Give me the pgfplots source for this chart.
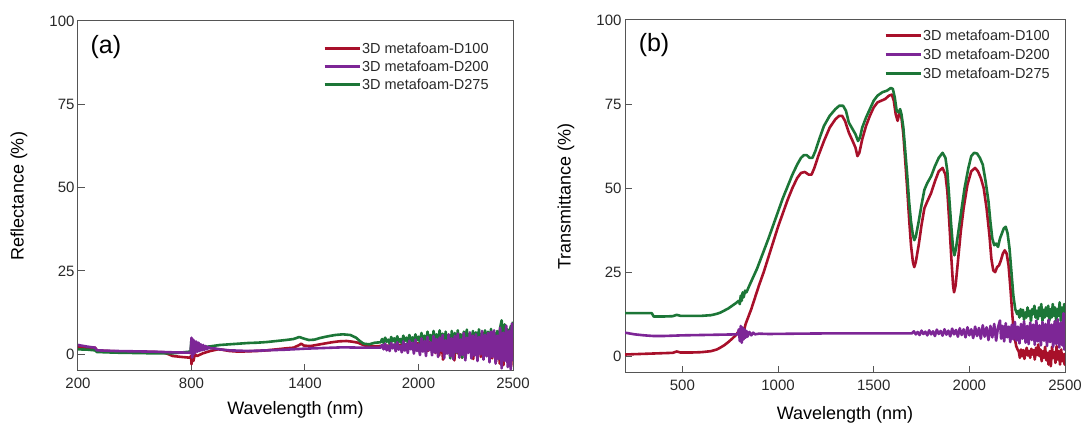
\documentclass[border=0pt]{standalone}
\usepackage{fontspec}
\setmainfont{Liberation Sans}
\usepackage{pgfplots}
\pgfplotsset{compat=1.18}
\definecolor{cred}{RGB}{168,16,42}
\definecolor{cpur}{RGB}{125,38,150}
\definecolor{cgrn}{RGB}{28,118,55}
\definecolor{axc}{RGB}{85,85,85}
\definecolor{txc}{RGB}{40,40,40}
\pgfplotsset{
  base/.style={
    scale only axis,
    anchor=south west,
    xmin=200, xmax=2500, ymin=-5, ymax=100,
    ytick={0,25,50,75,100},
    /pgf/number format/assume math mode=true,
    /pgf/number format/1000 sep={},
    axis line style={axc, line width=1pt},
    tick style={axc, line width=1pt},
    major tick length=7pt,
    tick align=inside,
    tick pos=left,
    tick label style={font=\fontsize{15}{17}\selectfont, text=txc},
    xticklabel style={yshift=-3pt},
    label style={font=\fontsize{18}{21}\selectfont, text=black},
    every axis plot/.append style={line width=2.6pt, line join=round, no markers},
    legend style={draw=none, fill=none, inner sep=0pt, anchor=north west,
      font=\fontsize{14.5}{16}\selectfont, text=txc,
      nodes={inner sep=1pt, text height=10.5pt, text depth=0pt}},
    legend image code/.code={\draw[#1, line width=3pt] (0pt,0pt) -- (35pt,0pt);},
  }
}
\begin{document}
\begin{tikzpicture}
\useasboundingbox (0pt,0pt) rectangle (1085pt,428pt);
% ---------------- (a) Reflectance ----------------
\begin{axis}[base,
  at={(78pt,57pt)}, width=435pt, height=350pt,
  xtick={200,800,1400,2000,2500},
  xlabel={Wavelength (nm)}, ylabel={Reflectance (\%)},
  x label style={at={(axis description cs:0.5,-0.1114)}, anchor=center},
  y label style={at={(axis description cs:-0.1356,0.5)}, anchor=center},
  legend style={at={(axis description cs:0.563,0.9407)}, row sep=5.5pt},
]
\addlegendimage{cred}\addlegendentry{3D metafoam-D100}
\addlegendimage{cpur}\addlegendentry{3D metafoam-D200}
\addlegendimage{cgrn}\addlegendentry{3D metafoam-D275}
% D100
\addplot[cred, forget plot] coordinates {
(200,2.2)(250,2.0)(290,2.0)(300,1.2)(350,1.0)(400,0.9)(500,0.8)(600,0.7)(650,0.6)(680,0)(700,-0.5)(750,-0.8)(790,-1.0)(798,-0.5)(800,-3)(802,-0.2)(810,-2)(818,0)(830,-0.5)(860,0.3)(900,1)(940,1.5)(960,1.4)(1000,1)(1050,0.8)(1100,0.9)(1150,1.0)(1200,1.2)(1250,1.5)(1300,1.8)(1340,2.0)(1370,2.8)(1380,3.2)(1395,2.6)(1430,2.5)(1460,2.8)(1500,3.2)(1540,3.6)(1580,3.9)(1620,4.0)(1650,3.8)(1680,3.5)(1700,3)(1720,2.6)(1760,2.4)(1800,2.5)(1850,2.6)(1900,2.8)(1950,3)
(2000,3.3)(2010,1.8)(2020,4.2)(2030,2.4)(2040,4.6)(2050,1.0)(2060,3.8)(2070,1.6)(2080,5.0)(2090,0.4)(2100,4.4)(2110,-0.3)(2120,5.4)(2130,-1.6)(2140,4.0)(2150,0.8)(2160,5.8)(2170,-0.6)(2180,4.6)(2190,-1.8)(2200,5.2)(2210,0.2)(2220,6.0)(2230,-1.0)(2240,4.8)(2250,-0.4)(2260,6.2)(2270,0.8)(2280,5.4)(2290,-1.4)(2300,6.4)(2310,0.2)(2320,5.6)(2330,-0.8)(2340,6.6)(2350,0.6)(2360,5.2)(2370,-0.4)(2380,6.4)(2390,-1.2)(2400,5.8)(2410,-2.2)(2420,6.8)(2430,-2.8)(2440,5.6)(2450,-3.2)(2460,6.4)(2470,-1.8)(2480,7.0)(2490,-3.6)(2500,5)
};
% D275
\addplot[cgrn, forget plot] coordinates {
(200,1.5)(250,1.4)(290,1.2)(300,0.7)(400,0.5)(500,0.4)(600,0.3)(700,0.3)(790,0.8)(795,1.0)(800,4.5)(805,2)(810,3)(830,2.2)(870,2.2)(900,2.4)(950,2.8)(1000,3.0)(1050,3.2)(1100,3.4)(1150,3.5)(1200,3.7)(1250,4)(1300,4.3)(1340,4.6)(1370,5.2)(1390,4.8)(1420,4.3)(1450,4.4)(1480,4.9)(1520,5.4)(1560,5.8)(1600,6.0)(1640,5.8)(1670,5.0)(1690,4.0)(1710,3.2)(1740,3.0)(1770,3.5)
(1800,3.6)(1808,4.6)(1816,3.4)(1824,5.0)(1832,3.8)(1840,4.4)(1848,3.2)(1856,5.2)(1864,3.9)(1872,4.8)(1880,3.5)(1888,5.4)(1896,3.7)(1904,4.6)(1912,3.3)(1920,5.6)(1928,4.0)(1936,5.0)(1944,3.6)(1952,5.8)(1960,3.9)(1968,5.1)(1976,3.4)(1984,6.0)(1992,4.2)(2000,5.3)(2008,3.6)(2016,6.4)(2024,4.0)(2032,5.6)(2040,3.2)(2048,6.8)(2056,4.4)(2064,5.8)(2072,3.0)(2080,7.0)(2088,4.1)(2096,6.0)(2104,2.6)(2112,7.2)(2120,3.5)(2128,6.2)(2136,1.0)(2144,6.8)(2152,3.0)(2160,5.9)(2168,-1.2)(2176,7.0)(2184,2.0)(2192,6.4)(2200,0.5)(2208,7.2)(2216,2.5)(2224,6.0)(2232,-1.0)(2240,6.8)(2248,2.8)(2256,7.4)(2264,1.0)(2272,6.2)(2280,3.0)(2288,7.0)(2296,0.0)(2304,6.6)(2312,2.2)(2320,7.5)(2328,1.2)(2336,6.4)(2344,-1.2)(2352,7.2)(2360,2.5)(2368,6.8)(2376,0.8)(2384,7.6)(2392,2.0)(2400,6.5)(2408,0.5)(2416,7.0)(2424,2.5)(2432,8.0)(2440,10.2)(2448,4.5)(2456,9.0)(2464,3.0)(2472,7.5)(2480,5.0)(2488,8.5)(2494,3.5)(2500,9.8)
};
% D200
\addplot[cpur, forget plot] coordinates {
(200,2.8)(250,2.3)(290,2.0)(300,1.2)(400,1.0)(500,0.9)(600,0.8)(700,0.6)(790,0.5)(796,0.3)
(800,5)(804,-1)(808,4.5)(812,0)(816,4)(820,0.5)(826,3.8)(832,0.8)(838,3.5)(844,1)(850,3)(856,1.2)(862,2.8)(868,1.3)(875,2.5)(882,1.5)(890,2.2)(900,1.8)(920,1.8)(950,1.5)(1000,1.2)(1100,1)(1200,1.2)(1300,1.4)(1400,1.7)(1500,1.9)(1600,2.1)(1700,2.0)
(1800,2.0)(1808,2.8)(1816,1.5)(1824,3.2)(1832,1.2)(1840,2.6)(1848,1.0)(1856,3.4)(1864,1.8)(1872,3.0)(1880,0.9)(1888,3.6)(1896,1.4)(1904,2.5)(1912,0.6)(1920,3.9)(1928,1.1)(1936,3.2)(1944,0.4)(1952,4.1)(1960,1.5)(1968,3.5)(1976,0.2)(1984,4.4)(1992,1.0)(2000,3.0)(2008,-0.2)(2016,4.8)(2024,0.8)(2032,4.0)(2040,-0.5)(2048,5.2)(2056,1.2)(2064,3.6)(2072,-0.3)(2080,5.5)(2088,0.5)(2096,4.6)(2104,-0.8)(2112,5.0)(2120,1.0)(2128,5.8)(2136,-1.2)(2144,4.2)(2152,0.2)(2160,6.0)(2168,-0.6)(2176,4.8)(2184,-1.5)(2192,5.5)(2200,0.6)(2208,6.2)(2216,-1.0)(2224,4.5)(2232,-0.2)(2240,6.4)(2248,-1.8)(2256,5.0)(2264,0.4)(2272,6.6)(2280,-1.2)(2288,5.6)(2296,-0.4)(2304,6.0)(2312,-2.0)(2320,5.2)(2328,0.0)(2336,7.0)(2344,-1.6)(2352,5.8)(2360,-0.6)(2368,6.4)(2376,-2.4)(2384,6.8)(2392,-0.8)(2400,7.2)(2408,-2.8)(2416,5.6)(2424,-1.5)(2432,8.0)(2440,-4.2)(2448,6.5)(2456,-2.0)(2464,8.6)(2472,-3.8)(2480,7.0)(2488,-4.5)(2494,9.2)(2500,-2.0)
};
\node[font=\fontsize{25}{30}\selectfont] at (rel axis cs:0.064,0.926) {(a)};
\end{axis}
% ---------------- (b) Transmittance ----------------
\begin{axis}[base,
  at={(625pt,55pt)}, width=440pt, height=353pt,
  xtick={500,1000,1500,2000,2500},
  xlabel={Wavelength (nm)}, ylabel={Transmittance (\%)},
  x label style={at={(axis description cs:0.5,-0.119)}, anchor=center},
  y label style={at={(axis description cs:-0.134,0.5)}, anchor=center},
  legend style={at={(axis description cs:0.5886,0.975)}, row sep=6.5pt},
]
\addlegendimage{cred}\addlegendentry{3D metafoam-D100}
\addlegendimage{cpur}\addlegendentry{3D metafoam-D200}
\addlegendimage{cgrn}\addlegendentry{3D metafoam-D275}
% D100
\addplot[cred, forget plot] coordinates {
(200,0.5)(250,0.6)(300,0.7)(350,0.8)(400,0.9)(450,1.0)(470,1.4)(490,1.1)(550,1.1)(600,1.2)(650,1.5)(680,2.0)(700,2.6)(720,3.3)(740,4.2)(760,5.2)(780,6.3)(795,7.5)(805,5.5)(812,8.5)(820,7.0)(830,9.5)(840,11)(860,14)(880,17.5)(900,21)(925,25)(950,29.5)(975,34)(1000,38.5)(1025,42.5)(1050,46.5)(1075,50)(1100,53)(1120,54.5)(1140,54.8)(1160,54)(1175,54)(1190,56)(1210,59.5)(1240,64)(1270,68)(1300,70.5)(1320,71.5)(1335,71.5)(1350,70)(1370,66.5)(1390,64)(1405,62)(1415,59.5)(1425,60.5)(1440,64.5)(1460,68.5)(1480,71.5)(1500,74)(1520,75.5)(1540,76)(1560,76.5)(1580,77.5)(1595,77.8)(1605,76)(1615,72)(1625,70)(1635,72.5)(1645,71)(1655,66)(1665,58)(1675,50)(1685,41)(1695,33)(1705,28)(1712,26.5)(1720,28)(1735,33)(1750,39)(1765,44)(1780,46)(1800,48.5)(1820,52)(1840,55)(1860,56)(1875,54)(1885,49)(1895,40)(1905,30)(1915,21)(1920,19)(1928,21)(1940,28)(1955,37)(1970,44)(1990,51)(2010,55)(2030,56)(2045,55)(2060,53)(2075,50)(2090,44)(2105,36)(2115,29)(2125,25.5)(2135,25)(2145,26.5)(2155,27)(2165,28.5)(2175,30.5)(2185,31.5)(2195,30.5)(2205,27)(2215,20)(2225,12)(2235,6)(2245,3)(2252,2)
(2258,1.5)(2264,-0.5)(2270,2)(2276,0)(2282,1.8)(2288,-0.8)(2294,1.2)(2300,2.5)(2306,0.2)(2312,1.5)(2318,-0.5)(2324,2.2)(2330,0.5)(2336,1.8)(2342,-1)(2348,2.5)(2354,0.3)(2360,3.5)(2366,0)(2372,2)(2378,-1.5)(2384,1.5)(2390,-0.5)(2396,2.8)(2402,-1.2)(2408,1)(2414,-2.5)(2420,1.5)(2426,-3)(2432,2.8)(2438,-0.5)(2444,1.2)(2450,-2)(2456,3)(2462,-1)(2468,1.5)(2474,-2.5)(2480,2)(2486,-1.5)(2492,0.5)(2498,-2.5)(2500,1)
};
% D275
\addplot[cgrn, forget plot] coordinates {
(200,12.8)(250,12.8)(300,12.8)(340,12.8)(350,11.8)(400,11.8)(450,11.9)(470,12.3)(490,12.0)(550,12.0)(600,12.0)(650,12.2)(680,12.6)(700,13.0)(720,13.6)(740,14.2)(760,15.0)(780,15.8)(795,16.5)(800,15.5)(805,18)(810,16.5)(815,19)(820,17.5)(828,19.5)(835,19)(850,21)(870,23.5)(890,26)(910,29)(930,32)(950,35)(975,39)(1000,43)(1025,47)(1050,50.5)(1075,54)(1100,57)(1120,59)(1135,59.8)(1150,59.8)(1165,59)(1180,59)(1195,61)(1215,64.5)(1240,68.5)(1270,71.5)(1300,73.5)(1320,74.5)(1340,74.5)(1355,73)(1370,69.5)(1390,67.5)(1405,66)(1418,64)(1428,65)(1440,68)(1460,71)(1480,73.5)(1500,76)(1520,77.5)(1545,78.5)(1570,79)(1590,79.8)(1600,79.5)(1610,77)(1620,73)(1630,72.5)(1638,73.5)(1645,72)(1655,68)(1665,61)(1675,54)(1685,46)(1695,40)(1705,36)(1712,34.5)(1720,35.5)(1735,40)(1750,45)(1765,49.5)(1780,51.5)(1800,53.5)(1820,56.5)(1840,59)(1860,60.5)(1875,59)(1885,55)(1895,47)(1905,39)(1915,32)(1922,30)(1930,32)(1945,38)(1960,44)(1975,50)(1995,56)(2010,59.5)(2025,60.5)(2040,60.3)(2055,59)(2070,57)(2085,52)(2100,46)(2110,40)(2120,35)(2130,33)(2140,33.5)(2150,32.5)(2160,35)(2170,36.5)(2180,38)(2190,38.5)(2200,36.5)(2210,32)(2220,25)(2230,18)(2240,14)(2250,12.5)
(2256,13.5)(2262,11.5)(2268,14)(2274,12)(2280,13.8)(2286,10.8)(2292,13)(2298,11.5)(2304,14.5)(2310,12)(2316,13.5)(2322,10.5)(2328,14)(2334,12.5)(2340,15)(2346,11.5)(2352,13.5)(2358,11)(2364,14.5)(2370,12)(2376,15.5)(2382,10.5)(2388,13.8)(2394,11.5)(2400,14.5)(2406,12)(2412,15)(2418,10.5)(2424,14)(2430,11.5)(2436,15.5)(2442,12)(2448,14.5)(2454,10.5)(2460,14)(2466,12)(2472,16)(2478,10.5)(2484,14.5)(2490,11)(2496,15.5)(2500,13)
};
% D200
\addplot[cpur, forget plot] coordinates {
(200,7)(220,6.8)(250,6.5)(300,6.2)(350,6.0)(400,6.0)(500,6.2)(600,6.3)(700,6.4)(790,6.5)(795,8)(800,4.5)(805,9)(810,4)(815,8.5)(820,5)(825,8)(830,5.5)(835,7.5)(840,5.8)(850,7.2)(860,6.2)(870,7)(880,6.5)(900,6.7)(950,6.6)(1100,6.7)(1300,6.8)(1500,6.8)
(1700,6.8)(1710,7.4)(1720,6.5)(1730,7.2)(1740,6.3)(1750,7.6)(1760,6.6)(1770,7.3)(1780,6.2)(1790,7.7)(1800,6.5)(1810,7.4)(1820,6.0)(1830,7.9)(1840,6.6)(1850,7.5)(1860,6.1)(1870,8.0)(1880,6.4)(1890,7.6)(1900,5.9)(1910,8.2)(1920,6.5)(1930,7.8)(1940,5.8)(1950,8.3)(1960,6.3)(1970,8.0)(1980,5.6)(1990,8.6)(2000,6.2)(2010,8.0)(2020,5.4)(2030,8.8)(2040,6.0)(2050,8.4)(2060,5.2)(2070,9.2)(2080,5.8)(2090,8.6)(2100,4.8)(2110,9.0)(2120,5.6)(2130,9.6)(2140,4.6)(2150,8.6)(2160,10.6)(2166,5.2)(2174,9.0)(2182,4.4)(2190,9.8)(2198,5.6)(2206,8.8)(2214,4.2)(2222,9.4)(2230,5.0)(2238,10.2)(2246,4.6)(2254,8.8)(2262,3.8)(2270,9.6)(2278,5.2)(2286,10.4)(2294,4.0)(2302,9.0)(2310,3.6)(2318,10.0)(2326,4.8)(2334,9.4)(2342,3.4)(2350,10.6)(2358,4.4)(2366,9.2)(2374,3.2)(2382,10.2)(2390,4.6)(2398,9.6)(2406,3.0)(2414,10.8)(2422,4.2)(2430,9.4)(2438,2.8)(2446,10.4)(2454,3.6)(2462,11.0)(2470,2.6)(2478,10.0)(2486,3.2)(2492,12.8)(2496,2.0)(2500,10)
};
\node[font=\fontsize{25}{30}\selectfont] at (rel axis cs:0.066,0.929) {(b)};
\end{axis}
\end{tikzpicture}
\end{document}
